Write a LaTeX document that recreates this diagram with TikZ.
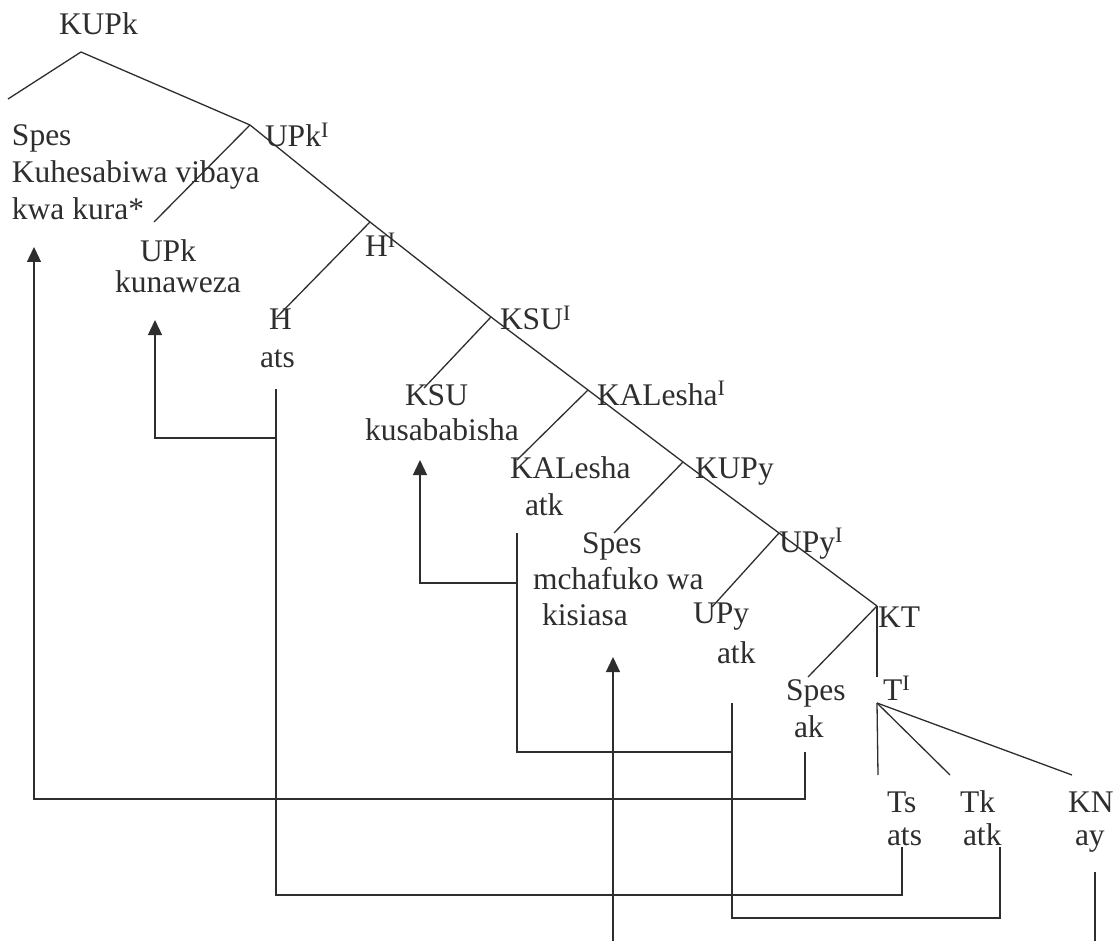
\documentclass[tikz,border=0pt]{standalone}
\usepackage{fontspec}
\setmainfont{Liberation Serif}
\usetikzlibrary{arrows.meta}
\definecolor{ink}{HTML}{2E2E2E}
\begin{document}
\begin{tikzpicture}[x=1pt,y=-1pt,
  lbl/.style={anchor=base west,inner sep=0pt,outer sep=0pt,font=\fontsize{31.5}{36}\selectfont,text=ink},
  br/.style={draw=ink,line width=1.3pt},
  conn/.style={draw=ink,line width=1.3pt},
  arr/.style={conn,-{Triangle[length=15pt,width=14pt]}}]
\useasboundingbox[fill=white] (0,0) rectangle (1119,941);

% ---------- labels ----------
\node[lbl] (kupk)  at (59,35)   {KUPk};
\node[lbl] (spA)   at (12,146)  {Spes};
\node[lbl] (kuh)   at (12,183)  {Kuhesabiwa vibaya};
\node[lbl] (kwa)   at (12,220)  {kwa kura*};
\node[lbl] (upkI)  at (265,147) {UPk\textsuperscript{I}};
\node[lbl] (upk)   at (140,262) {UPk};
\node[lbl] (kuna)  at (115,293) {kunaweza};
\node[lbl] (hI)    at (365,257) {H\textsuperscript{I}};
\node[lbl] (h)     at (269,330) {H};
\node[lbl] (atsH)  at (260,367) {ats};
\node[lbl] (ksuI)  at (500,330) {KSU\textsuperscript{I}};
\node[lbl] (ksu)   at (405,405) {KSU};
\node[lbl] (kusa)  at (365,440) {kusababisha};
\node[lbl] (kalI)  at (597,405) {KALesha\textsuperscript{I}};
\node[lbl] (kal)   at (510,478) {KALesha};
\node[lbl] (atkK)  at (525,515) {atk};
\node[lbl] (kupy)  at (695,478) {KUPy};
\node[lbl] (spB)   at (582,553) {Spes};
\node[lbl] (mch)   at (533,589) {mchafuko wa};
\node[lbl] (kis)   at (542,625) {kisiasa};
\node[lbl] (upyI)  at (779,552) {UPy\textsuperscript{I}};
\node[lbl] (upy)   at (693,623) {UPy};
\node[lbl] (atkU)  at (717,663) {atk};
\node[lbl] (kt)    at (878,627) {KT};
\node[lbl] (spC)   at (786,700) {Spes};
\node[lbl] (ak)    at (794,737) {ak};
\node[lbl] (tI)    at (883,700) {T\textsuperscript{I}};
\node[lbl] (ts)    at (887,812) {Ts};
\node[lbl] (atsT)  at (887,845) {ats};
\node[lbl] (tk)    at (960,812) {Tk};
\node[lbl] (atkT)  at (963,845) {atk};
\node[lbl] (kn)    at (1068,812) {KN};
\node[lbl] (ay)    at (1075,845) {ay};

% ---------- tree points ----------
\coordinate (a0) at (81,52);
\coordinate (a0L) at (8,99);
\coordinate (a1) at (250,125);
\coordinate (b1) at (154,222);
\coordinate (a2) at (370,222);
\coordinate (b2) at (277,317);
\coordinate (a3) at (491,317);
\coordinate (b3) at (424,388);
\coordinate (a4) at (588,390);
\coordinate (b4) at (517,460);
\coordinate (a5) at (683,462);
\coordinate (b5) at (614,533);
\coordinate (a6) at (779,533);
\coordinate (b6) at (712,607);
\coordinate (a7) at (877,606);
\coordinate (b7) at (808,677);
\coordinate (c7) at (877,677);
\coordinate (a8) at (877,703);
\coordinate (d1) at (878,775);
\coordinate (d2) at (950,775);
\coordinate (d3) at (1072,775);

\draw[br] (a0L) -- (a0) -- (a1) -- (a2) -- (a3) -- (a4) -- (a5) -- (a6) -- (a7);
\draw[br] (a1) -- (b1);
\draw[br] (a2) -- (b2);
\draw[br] (a3) -- (b3);
\draw[br] (a4) -- (b4);
\draw[br] (a5) -- (b5);
\draw[br] (a6) -- (b6);
\draw[br] (a7) -- (b7);
\draw[br] (a7) -- (c7);
\draw[br] (a8) -- (d1);
\draw[br] (a8) -- (d2);
\draw[br] (a8) -- (d3);

% ---------- movement connectors ----------
\coordinate (akS)   at (805,752);
\coordinate (akC)   at (805,799);
\coordinate (tip1)  at (34,247);
\draw[arr] (akS) -- (akC) -| (tip1);

\coordinate (hS)    at (276,389);
\coordinate (hC)    at (276,895);
\coordinate (tsS)   at (902,847);
\draw[conn] (hS) -- (hC) -| (tsS);
\coordinate (hJ)    at (276,438);
\coordinate (tip2)  at (155,320);
\draw[arr] (hJ) -| (tip2);

\coordinate (kS)    at (517,533);
\coordinate (kC)    at (517,752);
\coordinate (uJ)    at (732,752);
\draw[conn] (kS) -- (kC) -- (uJ);
\coordinate (kJ)    at (517,583);
\coordinate (tip3)  at (420,460);
\draw[arr] (kJ) -| (tip3);

\coordinate (uS)    at (732,703);
\coordinate (uC)    at (732,918);
\coordinate (tkS)   at (1000,847);
\draw[conn] (uS) -- (uC) -| (tkS);

\coordinate (bot1)  at (613,941);
\coordinate (tip4)  at (613,657);
\draw[arr] (bot1) -- (tip4);

\coordinate (ayS)   at (1095,872);
\coordinate (ayE)   at (1095,941);
\draw[conn] (ayS) -- (ayE);
\end{tikzpicture}
\end{document}
